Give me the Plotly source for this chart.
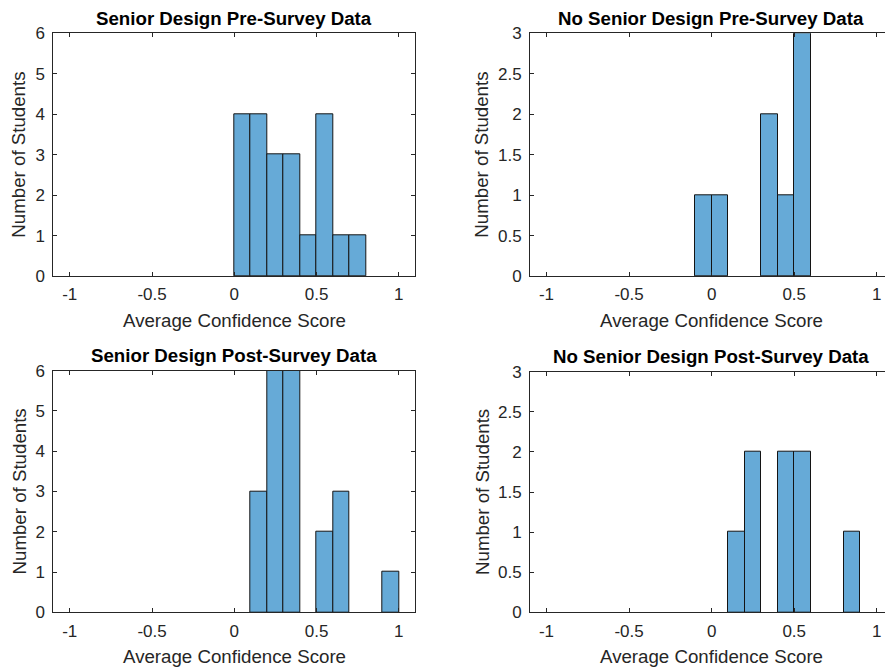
import plotly.graph_objects as go

# ---- data (histogram bins, width 0.1; only non-empty bins) ----
bin_width = 0.1
sd_pre_edges = [0.0, 0.1, 0.2, 0.3, 0.4, 0.5, 0.6, 0.7]
sd_pre_counts = [4, 4, 3, 3, 1, 4, 1, 1]

nsd_pre_edges = [-0.1, 0.0, 0.3, 0.4, 0.5]
nsd_pre_counts = [1, 1, 2, 1, 3]

sd_post_edges = [0.1, 0.2, 0.3, 0.5, 0.6, 0.9]
sd_post_counts = [3, 6, 6, 2, 3, 1]

nsd_post_edges = [0.1, 0.2, 0.4, 0.5, 0.8]
nsd_post_counts = [1, 2, 2, 2, 1]

titles = ["Senior Design Pre-Survey Data", "No Senior Design Pre-Survey Data",
          "Senior Design Post-Survey Data", "No Senior Design Post-Survey Data"]
x_label = "Average Confidence Score"
y_label = "Number of Students"

W, H = 885, 667
FONT = "Liberation Sans, Arial, Helvetica, sans-serif"
AX = "rgb(38,38,38)"
FILL = "rgb(102,170,215)"

# panel pixel boxes: (left, right, top, bottom)
panels = [
    (53.3, 415.3, 33.3, 276.0),
    (530.0, 885.0, 33.3, 276.0),
    (53.3, 415.3, 370.7, 612.3),
    (530.0, 885.0, 371.7, 612.3),
]
ytitle_x = [19, 482, 19, 482]
xranges = [[-1.1, 1.1], [-1.1, 1.05], [-1.1, 1.1], [-1.1, 1.05]]
ymaxes = [6, 3, 6, 3]
ydticks = [1, 0.5, 1, 0.5]
datasets = [(sd_pre_edges, sd_pre_counts), (nsd_pre_edges, nsd_pre_counts),
            (sd_post_edges, sd_post_counts), (nsd_post_edges, nsd_post_counts)]

fig = go.Figure()
annotations = []
for i, ((l, r, t, b), (edges, counts)) in enumerate(zip(panels, datasets)):
    n = "" if i == 0 else str(i + 1)
    xa, ya = "x" + n, "y" + n
    fig.add_trace(go.Bar(
        x=edges, y=counts, width=bin_width, offset=0,
        marker=dict(color=FILL, line=dict(color="rgb(20,20,20)", width=1)),
        xaxis=xa, yaxis=ya, showlegend=False, hoverinfo="x+y"))
    right_side = (i % 2 == 1)
    common = dict(showline=True, linecolor=AX, linewidth=1, ticks="inside",
                  ticklen=4, tickcolor=AX, tickwidth=1, showgrid=False,
                  zeroline=False, automargin=False,
                  tickfont=dict(family=FONT, size=17, color=AX))
    fig.layout["xaxis" + n] = dict(
        domain=[l / W, min(r / W, 1.0)], range=xranges[i], anchor=ya,
        tickvals=[-1, -0.5, 0, 0.5, 1], ticktext=["-1", "-0.5", "0", "0.5", "1"],
        mirror="ticks", ticklabelstandoff=3, **common)
    fig.layout["yaxis" + n] = dict(
        domain=[1 - b / H, 1 - t / H], range=[0, ymaxes[i]], anchor=xa,
        dtick=ydticks[i], tick0=0, ticklabelstandoff=4,
        mirror=False if right_side else "ticks", **common)
    # centre of full axes box in pixels (right panels extend past the page edge)
    cx = (l + r) / 2 if not right_side else (530 + 892.5) / 2
    annotations.append(dict(text="<b>" + titles[i] + "</b>", x=cx / W, y=1 - (t - 15) / H,
                            xref="paper", yref="paper", showarrow=False,
                            font=dict(family=FONT, size=18.7, color="black"),
                            xanchor="center", yanchor="middle"))
    annotations.append(dict(text=x_label, x=cx / W, y=1 - (b + 44) / H,
                            xref="paper", yref="paper", showarrow=False,
                            font=dict(family=FONT, size=18.7, color=AX),
                            xanchor="center", yanchor="middle"))
    annotations.append(dict(text=y_label, x=ytitle_x[i] / W, y=1 - ((t + b) / 2) / H,
                            xref="paper", yref="paper", showarrow=False, textangle=-90,
                            font=dict(family=FONT, size=18.7, color=AX),
                            xanchor="center", yanchor="middle"))

fig.update_layout(width=W, height=H, margin=dict(l=0, r=0, t=0, b=0),
                  plot_bgcolor="white", paper_bgcolor="white",
                  bargap=0, annotations=annotations)
fig.write_html("out.html")
